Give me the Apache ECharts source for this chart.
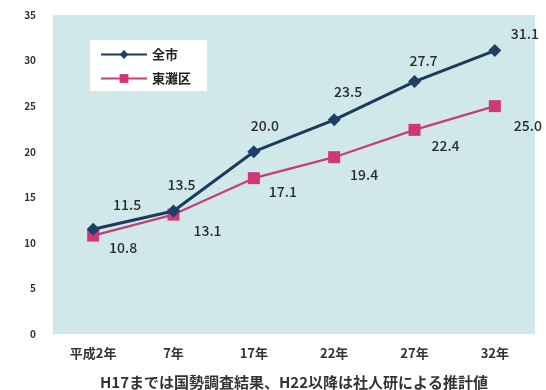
<!DOCTYPE html>
<html>
<head>
<meta charset="utf-8">
<script src="https://cdn.jsdelivr.net/npm/echarts@6/dist/echarts.min.js"></script>
<style>
  html, body { margin: 0; padding: 0; background: #ffffff; }
  #chart { width: 546px; height: 390px; }
</style>
</head>
<body>
<div id="chart"></div>
<script>
// 高齢化率の推移（%）
const categories = ['平成2年', '7年', '17年', '22年', '27年', '32年'];
const cityValues = [11.5, 13.5, 20.0, 23.5, 27.7, 31.1];      // 全市
const wardValues = [10.8, 13.1, 17.1, 19.4, 22.4, 25.0];      // 東灘区
const yTicks = [0, 5, 10, 15, 20, 25, 30, 35];
const note = 'H17までは国勢調査結果、H22以降は社人研による推計値';

// 数値ラベルの位置調整（px）
const cityLabelOffsets = [[34, -24], [8, -26], [11, -26], [14, -28], [9, -21], [30, -17]];
const wardLabelOffsets = [[30, 12], [34, 16], [29, 14], [30, 18], [31, 16], [33, 20]];

const FONT = '"Noto Sans CJK JP", "Noto Sans", sans-serif';

function buildData(values, offsets) {
  return values.map((v, i) => ({
    value: v,
    label: { offset: offsets[i] }
  }));
}

const chart = echarts.init(document.getElementById('chart'));
chart.setOption({
  animation: false,
  backgroundColor: '#ffffff',
  textStyle: { fontFamily: FONT },
  grid: {
    left: 53, right: 11, top: 15, bottom: 56,
    show: true,
    backgroundColor: '#d0e8ea',
    borderWidth: 0
  },
  legend: {
    orient: 'vertical',
    left: 90, top: 40,
    backgroundColor: '#ffffff',
    padding: [8, 16, 6, 10],
    itemGap: 11,
    itemWidth: 46,
    itemHeight: 11,
    textStyle: { fontSize: 13, fontWeight: 'bold', color: '#222', fontFamily: FONT },
    data: ['全市', '東灘区']
  },
  xAxis: {
    type: 'category',
    data: categories,
    boundaryGap: true,
    axisLine: { show: false },
    axisTick: { show: false },
    axisLabel: { margin: 13, fontSize: 13, fontWeight: 'bold', color: '#333', fontFamily: FONT }
  },
  yAxis: {
    type: 'value',
    min: yTicks[0],
    max: yTicks[yTicks.length - 1],
    interval: 5,
    axisLine: { show: false },
    axisTick: { show: false },
    splitLine: { show: false },
    axisLabel: { margin: 17, fontSize: 10, fontWeight: 'bold', color: '#333', fontFamily: FONT }
  },
  series: [
    {
      name: '全市',
      type: 'line',
      data: buildData(cityValues, cityLabelOffsets),
      symbol: 'diamond',
      symbolSize: 13,
      lineStyle: { color: '#1d3a5c', width: 3 },
      itemStyle: { color: '#1d3f68' },
      label: {
        show: true, position: 'inside',
        formatter: p => p.value.toFixed(1),
        fontSize: 14, fontWeight: 500, color: '#2b2b2b', fontFamily: FONT
      },
      z: 3
    },
    {
      name: '東灘区',
      type: 'line',
      data: buildData(wardValues, wardLabelOffsets),
      symbol: 'rect',
      symbolSize: 12,
      lineStyle: { color: '#c23f74', width: 2.2 },
      itemStyle: { color: '#cf3777' },
      label: {
        show: true, position: 'inside',
        formatter: p => p.value.toFixed(1),
        fontSize: 14, fontWeight: 500, color: '#2b2b2b', fontFamily: FONT
      },
      z: 2
    }
  ],
  graphic: [{
    type: 'text',
    x: 294,
    y: 382,
    style: {
      text: note,
      font: 'bold 15px ' + FONT,
      fill: '#333',
      align: 'center',
      verticalAlign: 'middle'
    }
  }]
});
</script>
</body>
</html>
